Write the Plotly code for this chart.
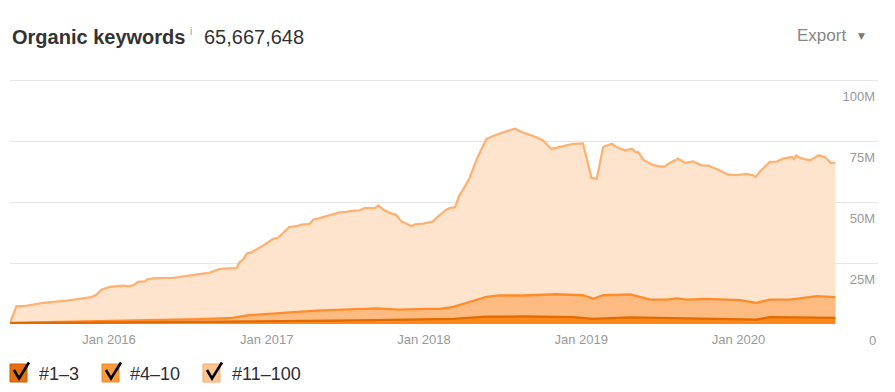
import plotly.graph_objects as go

# ---------------- data (values in millions of keywords, stacked levels) ----------------
total_dates = [
    "2015-05-16","2015-05-31","2015-06-19","2015-07-09","2015-08-01","2015-09-25","2015-10-26","2015-11-21","2015-12-03","2015-12-15",
    "2016-01-03","2016-02-03","2016-02-14","2016-02-26","2016-03-08","2016-03-24","2016-03-31","2016-04-20","2016-05-29","2016-06-29",
    "2016-07-30","2016-08-22","2016-09-14","2016-10-23","2016-10-29","2016-11-07","2016-11-16","2016-11-27","2016-12-24","2017-01-16",
    "2017-01-27","2017-02-22","2017-03-11","2017-03-23","2017-04-11","2017-04-19","2017-04-30","2017-05-27","2017-06-19","2017-07-05",
    "2017-07-17","2017-08-05","2017-08-17","2017-09-09","2017-09-17","2017-10-02","2017-10-18","2017-10-28","2017-11-10","2017-11-22",
    "2017-12-03","2017-12-11","2017-12-30","2018-01-22","2018-02-03","2018-02-22","2018-03-02","2018-03-14","2018-03-25","2018-04-02",
    "2018-04-17","2018-05-03","2018-05-26","2018-06-10","2018-06-30","2018-07-31","2018-08-15","2018-09-19","2018-10-04","2018-10-24",
    "2018-11-04","2018-11-24","2018-12-13","2019-01-05","2019-01-13","2019-01-25","2019-02-06","2019-02-12","2019-02-21","2019-03-13",
    "2019-03-25","2019-04-13","2019-04-29","2019-05-06","2019-05-14","2019-05-25","2019-06-02","2019-06-14","2019-07-03","2019-07-15",
    "2019-07-26","2019-08-14","2019-08-30","2019-09-18","2019-10-07","2019-10-23","2019-11-15","2019-12-08","2019-12-28","2020-01-20",
    "2020-02-04","2020-02-10","2020-02-20","2020-03-14","2020-03-30","2020-04-14","2020-05-04","2020-05-09","2020-05-14","2020-05-23",
    "2020-06-15","2020-07-05","2020-07-20","2020-08-02","2020-08-13",
]
# level reached with #11-100 on top (total of all positions)
total_values = [
    0.5, 7.3, 7.3, 8.0, 8.7, 9.6, 10.2, 11.0, 12.1, 14.1,
    15.2, 15.7, 15.5, 15.8, 17.3, 17.5, 18.4, 18.8, 18.9, 19.8,
    20.4, 21.1, 22.6, 22.9, 25.1, 26.4, 28.9, 29.4, 32.2, 34.9,
    35.3, 39.8, 40.1, 40.8, 41.1, 42.8, 43.2, 44.5, 45.8, 46.0,
    46.4, 46.6, 47.6, 47.5, 48.6, 46.5, 45.3, 44.9, 42.0, 41.1,
    40.1, 40.9, 41.2, 42.1, 44.2, 46.9, 47.5, 47.9, 53.1, 55.1,
    59.9, 67.4, 75.9, 77.0, 78.4, 80.1, 78.8, 76.6, 75.3, 71.8,
    72.2, 73.2, 73.9, 74.1, 68.8, 59.9, 59.5, 64.7, 72.6, 73.9,
    72.5, 71.2, 71.9, 70.6, 70.4, 67.4, 66.7, 65.4, 64.6, 64.7,
    66.1, 67.8, 66.1, 66.7, 65.1, 65.0, 63.3, 61.3, 61.1, 61.6,
    61.0, 60.2, 62.6, 66.5, 66.6, 67.8, 68.5, 67.7, 69.1, 68.1,
    67.1, 69.2, 68.4, 66.1, 66.1,
]

# level reached with #1-3 + #4-10
top10_dates = [
    "2015-05-16","2015-12-11","2016-07-30","2016-10-14","2016-11-17","2017-02-08","2017-04-27","2017-09-13","2017-11-06","2018-01-07",
    "2018-02-07","2018-03-10","2018-04-17","2018-05-26","2018-06-26","2018-08-19","2018-11-04","2019-01-05","2019-01-29","2019-02-21",
    "2019-04-25","2019-06-10","2019-07-19","2019-08-11","2019-09-03","2019-10-19","2020-01-04","2020-02-12","2020-03-14","2020-04-30",
    "2020-07-01","2020-08-13",
]
top10_values = [
    0.5, 1.1, 2.0, 2.5, 3.5, 4.6, 5.5, 6.4, 5.9, 6.2,
    6.2, 7.0, 8.9, 11.1, 11.7, 11.7, 12.2, 11.8, 10.3, 11.8,
    12.1, 10.0, 10.0, 10.5, 10.0, 10.3, 9.8, 8.7, 10.0, 10.0,
    11.4, 11.0,
]

# level of #1-3
top3_dates = [
    "2015-05-16","2015-12-11","2016-10-14","2017-02-08","2017-09-13","2018-01-07","2018-03-10","2018-05-26","2018-08-19","2018-12-13",
    "2019-01-29","2019-04-25","2019-08-11","2020-02-12","2020-03-14","2020-08-13",
]
top3_values = [0.3, 0.5, 1.0, 1.2, 1.6, 1.8, 2.1, 3.0, 3.1, 2.8, 2.1, 2.7, 2.3, 1.8, 2.8, 2.5]

series_names = ["#11–100", "#4–10", "#1–3"]
y_tickvals = [0, 25, 50, 75, 100]
y_ticktext = ["0", "25M", "50M", "75M", "100M"]
title_text = "Organic keywords"
total_text = "65,667,648"

FONT = "Arial, Liberation Sans, sans-serif"

# ---------------- layout geometry helpers ----------------
W, H = 895, 392
L, R, T, B = 10, 17, 79, 68
PW, PH = W - L - R, H - T - B


def px(x):
    return (x - L) / PW


def py(y):
    return (H - B - y) / PH


fig = go.Figure()

fig.add_trace(go.Scatter(
    x=total_dates, y=total_values, name=series_names[0], mode="lines",
    line=dict(color="#ffb172", width=2.3), fill="tozeroy", fillcolor="#fee4cd",
    hoverinfo="skip"))
fig.add_trace(go.Scatter(
    x=top10_dates, y=top10_values, name=series_names[1], mode="lines",
    line=dict(color="#ff8c2b", width=2.3), fill="tozeroy", fillcolor="#fdbb82",
    hoverinfo="skip"))
fig.add_trace(go.Scatter(
    x=top3_dates, y=top3_values, name=series_names[2], mode="lines",
    line=dict(color="#e26a00", width=2.3), fill="tozeroy", fillcolor="#ff8a1a",
    hoverinfo="skip"))

fig.update_layout(
    width=W, height=H,
    margin=dict(l=L, r=R, t=T, b=B, pad=0),
    paper_bgcolor="white", plot_bgcolor="white",
    showlegend=False,
    font=dict(family=FONT, color="#333333"),
    xaxis=dict(
        type="date", range=["2015-05-16", "2020-11-20"],
        tick0="2016-01-01", dtick="M12", tickformat="%b %Y",
        showgrid=False, zeroline=False, showline=False, ticks="",
        tickfont=dict(family=FONT, size=13, color="#999999"),
        ticklabelstandoff=6, fixedrange=True,
    ),
    yaxis=dict(
        range=[0, 100.5], tickvals=y_tickvals, ticktext=y_ticktext,
        side="right", ticklabelposition="inside", ticks="",
        ticklabelshift=16, ticklabelstandoff=0,
        showgrid=True, gridcolor="#e6e6e6", gridwidth=1,
        zeroline=False, showline=False,
        tickfont=dict(family=FONT, size=13, color="#999999"),
        fixedrange=True,
    ),
)

ann = []
# the "0" tick label sits below the plot area, where inside labels get clipped
ann.append(dict(text=y_ticktext[0], xref="paper", yref="y", x=1, y=y_tickvals[0],
                xanchor="right", yanchor="middle", yshift=-16, showarrow=False,
                font=dict(family=FONT, size=13, color="#999999")))

pap = []
pap.append(dict(text=title_text, x=px(10), y=py(37), xanchor="left", yanchor="middle",
                font=dict(family=FONT, size=20, color="#333333", weight="bold")))
pap.append(dict(text="i", x=px(188), y=py(32), xanchor="left", yanchor="middle",
                font=dict(family=FONT, size=10, color="#999999")))
pap.append(dict(text=total_text, x=px(202), y=py(37), xanchor="left", yanchor="middle",
                font=dict(family=FONT, size=20, color="#333333")))
pap.append(dict(text="Export", x=px(795), y=py(36), xanchor="left", yanchor="middle",
                font=dict(family=FONT, size=17, color="#858585")))
pap.append(dict(text="▼", x=px(861), y=py(36), xanchor="center", yanchor="middle",
                font=dict(family="DejaVu Sans", size=9, color="#777777")))

legend_items = [
    (10, "#e5700e", "#c85c00", series_names[2], 37),
    (102, "#ff9a3a", "#e8892c", series_names[1], 128),
    (203, "#ffc593", "#f2a86a", series_names[0], 230),
]
shapes = []
for bx, fillc, linec, label, tx in legend_items:
    shapes.append(dict(type="rect", xref="paper", yref="paper",
                       x0=px(bx), x1=px(bx + 17), y0=py(382), y1=py(364),
                       fillcolor=fillc, line=dict(color=linec, width=1), layer="above"))
    path = "M {:.5f},{:.5f} L {:.5f},{:.5f} L {:.5f},{:.5f}".format(
        px(bx + 4), py(370), px(bx + 9), py(378.5), px(bx + 19), py(362.5))
    shapes.append(dict(type="path", xref="paper", yref="paper", path=path,
                       line=dict(color="#000000", width=2.6), layer="above"))
    pap.append(dict(text=label, x=px(tx), y=py(374), xanchor="left", yanchor="middle",
                    font=dict(family=FONT, size=18, color="#2d2d3a")))

for a in pap:
    a.update(xref="paper", yref="paper", showarrow=False)

fig.update_layout(annotations=ann + pap, shapes=shapes)

fig.write_html("out.html", config={"displayModeBar": False},
               post_script="document.body.style.margin='0';")
